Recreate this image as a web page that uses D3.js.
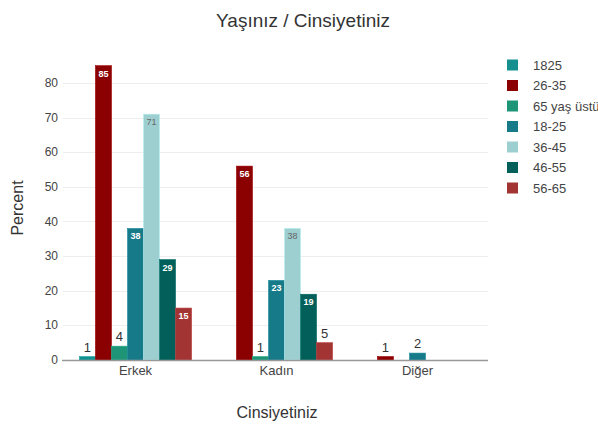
<!DOCTYPE html>
<html lang="tr">
<head>
<meta charset="utf-8">
<title>Yaşınız / Cinsiyetiniz</title>
<style type="text/css">
    body {
        margin: 0;
        background-color: #fff;
    }
    svg {
        font-family: "Liberation Sans", Arial, sans-serif;
    }
    .grid line {
        stroke: #eeeeee;
    }
    .axis text {
        fill: #444;
        font-size: 12px;
    }
    .catLabel {
        fill: #444;
        font-size: 13px;
    }
</style>
<script src="https://d3js.org/d3.v7.min.js"></script>
</head>
<body>
<div id="chart"></div>
<script>

var categories = ['Erkek', 'Kadın', 'Diğer'];
var seriesNames = ['1825', '26-35', '65 yaş üstü', '18-25', '36-45', '46-55', '56-65'];
var seriesColors = ['#15908f', '#8b0000', '#1e9577', '#177a89', '#9dcfd1', '#035f59', '#a33434'];
// values per series, in category order (null = no bar)
var v1825 = [1, null, null];
var v2635 = [85, 56, 1];
var v65up = [4, 1, null];
var v1825b = [38, 23, 2];
var v3645 = [71, 38, null];
var v4655 = [29, 19, null];
var v5665 = [15, 5, null];
var seriesValues = [v1825, v2635, v65up, v1825b, v3645, v4655, v5665];
var yTicks = [0, 10, 20, 30, 40, 50, 60, 70, 80];

var width = 598, height = 425;
var plotLeft = 65, plotRight = 488, plotBottom = 360, plotTop = 55.3;

var svg = d3.select('#chart')
    .append('svg')
    .attr('width', width)
    .attr('height', height);

var xScale = d3.scaleBand()
    .domain(categories)
    .range([plotLeft, plotRight]);

var xInner = d3.scaleBand()
    .domain(seriesNames)
    .range([0, xScale.bandwidth()])
    .paddingOuter(0.9);

var yScale = d3.scaleLinear()
    .domain([0, 88])
    .range([plotBottom, plotTop]);

//gridlines
svg.append('g')
    .attr('class', 'grid')
    .selectAll('line')
    .data(yTicks.slice(1))
    .enter()
    .append('line')
    .attr('x1', plotLeft - 2)
    .attr('x2', plotRight)
    .attr('y1', function(d) { return Math.round(yScale(d)) + 0.5; })
    .attr('y2', function(d) { return Math.round(yScale(d)) + 0.5; });

//y tick labels
svg.append('g')
    .attr('class', 'axis')
    .selectAll('text')
    .data(yTicks)
    .enter()
    .append('text')
    .attr('x', plotLeft - 7)
    .attr('y', function(d) { return yScale(d) + 4; })
    .attr('text-anchor', 'end')
    .text(function(d) { return d; });

//flatten data
var bars = [];
seriesNames.forEach(function(s, si) {
    categories.forEach(function(c, ci) {
        var v = seriesValues[si][ci];
        if (v !== null) bars.push({ series: s, cat: c, value: v, color: seriesColors[si] });
    });
});

function isInside(d) {
    return plotBottom - yScale(d.value) > 30;
}

svg.append('g')
    .selectAll('rect')
    .data(bars)
    .enter()
    .append('rect')
    .attr('x', function(d) { return xScale(d.cat) + xInner(d.series); })
    .attr('y', function(d) { return yScale(d.value); })
    .attr('width', xInner.bandwidth())
    .attr('height', function(d) { return plotBottom - yScale(d.value); })
    .attr('fill', function(d) { return d.color; })
    .attr('stroke', function(d) { return d3.color(d.color).brighter(0.4); })
    .attr('stroke-width', 0.6);

//value labels
svg.append('g')
    .selectAll('text')
    .data(bars)
    .enter()
    .append('text')
    .attr('x', function(d) { return xScale(d.cat) + xInner(d.series) + xInner.bandwidth() / 2; })
    .attr('y', function(d) {
        return isInside(d) ? yScale(d.value) + 11 : yScale(d.value) - 5;
    })
    .attr('text-anchor', 'middle')
    .attr('font-size', function(d) { return isInside(d) ? '9px' : '13px'; })
    .attr('font-weight', function(d) { return isInside(d) && d.series !== '36-45' ? 'bold' : 'normal'; })
    .attr('fill', function(d) {
        if (!isInside(d)) return '#333';
        return d.series === '36-45' ? '#666' : '#fff';
    })
    .text(function(d) { return d.value; });

//x axis line
svg.append('line')
    .attr('x1', plotLeft - 3)
    .attr('x2', plotRight)
    .attr('y1', plotBottom + 0.5)
    .attr('y2', plotBottom + 0.5)
    .attr('stroke', '#999')
    .attr('stroke-width', 1.5);

svg.append('g')
    .selectAll('text')
    .data(categories)
    .enter()
    .append('text')
    .attr('class', 'catLabel')
    .attr('x', function(d) { return xScale(d) + xScale.bandwidth() / 2; })
    .attr('y', plotBottom + 15)
    .attr('text-anchor', 'middle')
    .text(function(d) { return d; });

//title and axis titles
svg.append('text')
    .attr('x', 303)
    .attr('y', 27)
    .attr('text-anchor', 'middle')
    .attr('font-size', '19px')
    .attr('fill', '#333')
    .text('Yaşınız / Cinsiyetiniz');

svg.append('text')
    .attr('x', 277)
    .attr('y', 418)
    .attr('text-anchor', 'middle')
    .attr('font-size', '16px')
    .attr('fill', '#333')
    .text('Cinsiyetiniz');

svg.append('text')
    .attr('transform', 'translate(23,' + 208 + ') rotate(-90)')
    .attr('text-anchor', 'middle')
    .attr('font-size', '16px')
    .attr('fill', '#333')
    .text('Percent');

//legend
var legend = svg.append('g')
    .selectAll('g')
    .data(seriesNames)
    .enter()
    .append('g')
    .attr('transform', function(d, i) { return 'translate(507,' + (59.5 + i * 20.5) + ')'; });

legend.append('rect')
    .attr('width', 11)
    .attr('height', 11)
    .attr('fill', function(d, i) { return seriesColors[i]; });

legend.append('text')
    .attr('x', 26)
    .attr('y', 10)
    .attr('font-size', '13px')
    .attr('fill', '#444')
    .text(function(d) { return d; });

</script>
</body>
</html>
